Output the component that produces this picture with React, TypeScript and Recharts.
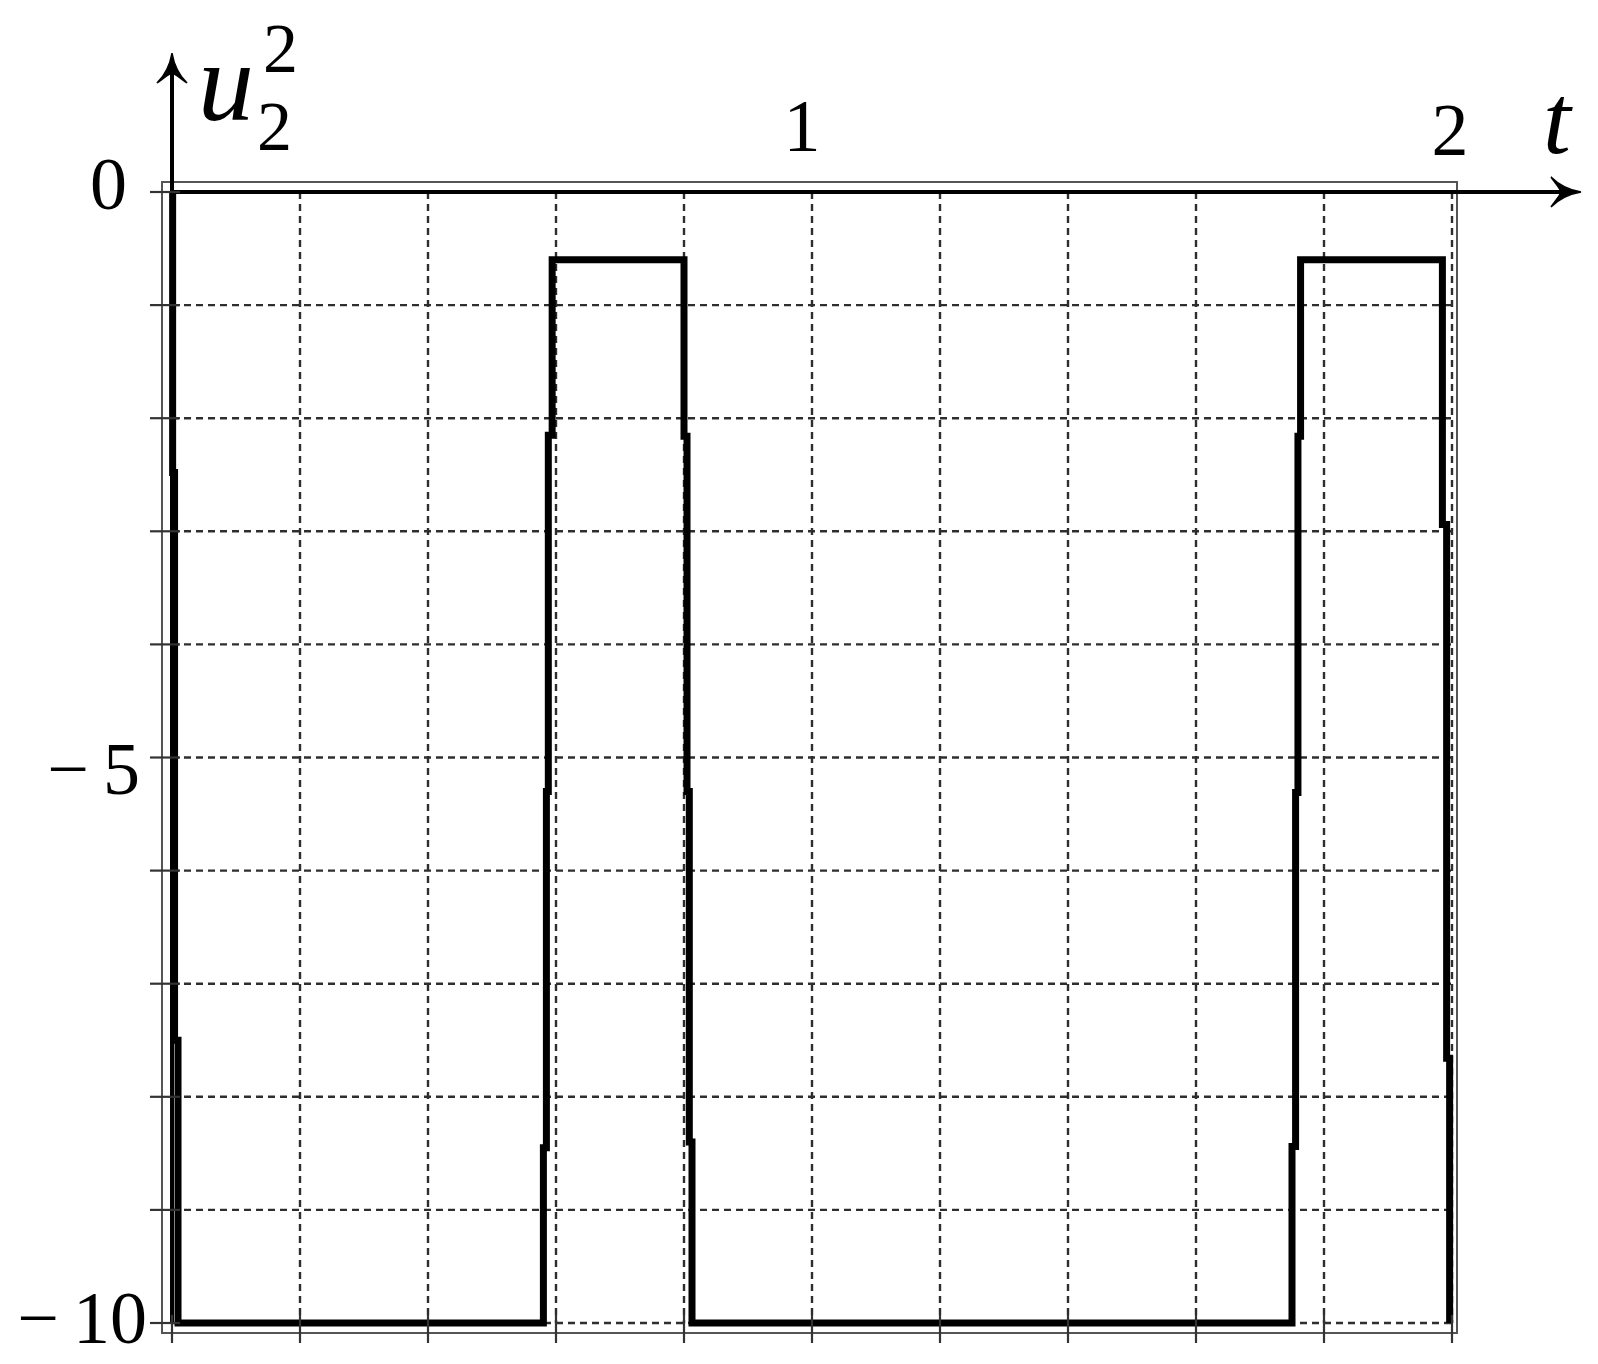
import React from "react";
import { LineChart, Line, XAxis, YAxis, CartesianGrid, Customized } from "recharts";

// time (t) and signal (u₂²) samples of the waveform
const T_VALUES = [
  0.001, 0.001, 0.004, 0.004, 0.0094, 0.0094,
  0.5803, 0.5803, 0.585, 0.585, 0.588, 0.588, 0.594, 0.594,
  0.8, 0.8, 0.8047, 0.8047, 0.8083, 0.8083, 0.8125, 0.8125,
  1.75, 1.75, 1.7556, 1.7556, 1.7593, 1.7593, 1.7634, 1.7634,
  1.985, 1.985, 1.9916, 1.9916, 1.9963, 1.9963,
];
const U_VALUES = [
  0, -2.48, -2.48, -7.5, -7.5, -10,
  -10, -8.45, -8.45, -5.3, -5.3, -2.15, -2.15, -0.6,
  -0.6, -2.16, -2.16, -5.3, -5.3, -8.4, -8.4, -10,
  -10, -8.44, -8.44, -5.31, -5.31, -2.16, -2.16, -0.6,
  -0.6, -2.94, -2.94, -7.66, -7.66, -10,
];

const X_GRID_TICKS = [0, 0.2, 0.4, 0.6, 0.8, 1, 1.2, 1.4, 1.6, 1.8, 2];
const Y_GRID_TICKS = [0, -1, -2, -3, -4, -5, -6, -7, -8, -9, -10];
const X_LABEL_TICKS = [1, 2];
const X_LABELS: Record<string, string> = { "1": "1", "2": "2" };
const Y_LABELS: Record<string, [string, string]> = {
  "0": ["", "0"],
  "-5": ["−", "5"],
  "-10": ["−", "10"],
};

const data = T_VALUES.map((t, i) => ({ t, u: U_VALUES[i] }));

// layout
const W = 1598;
const H = 1364;
const P_LEFT = 172;
const P_TOP = 192;
const P_RIGHT = 1452;
const P_BOTTOM = 1323;
const FONT = "'Liberation Serif', 'Times New Roman', serif";

// per-label placement tweaks (style only)
const Y_LABEL_STYLE: Record<string, { endX: number; dy: number }> = {
  "0": { endX: 127, dy: 17 },
  "-5": { endX: 140, dy: 36 },
  "-10": { endX: 147, dy: 20 },
};
const X_LABEL_STYLE: Record<string, { dx: number; y: number }> = {
  "1": { dx: -10, y: 151 },
  "2": { dx: -2, y: 155 },
};

const YTick = (props: any) => {
  const { x, y, payload } = props;
  const key = String(payload.value);
  const lbl = Y_LABELS[key];
  const st = Y_LABEL_STYLE[key];
  return (
    <g>
      <line x1={x - 22} x2={x + 8} y1={y} y2={y} stroke="#333" strokeWidth={2.2} />
      {lbl && st ? (
        <text
          x={st.endX}
          y={y + st.dy}
          textAnchor="end"
          fontFamily={FONT}
          fontSize={74}
          fill="#000"
        >
          {lbl[0] ? <tspan>{lbl[0]}</tspan> : null}
          <tspan dx={lbl[0] ? 14 : 0}>{lbl[1]}</tspan>
        </text>
      ) : null}
    </g>
  );
};

const XBottomTick = (props: any) => {
  const { x, y } = props;
  return <line x1={x} x2={x} y1={y - 8} y2={y + 20} stroke="#333" strokeWidth={2.2} />;
};

const XTopTick = (props: any) => {
  const { x, payload } = props;
  const key = String(payload.value);
  const st = X_LABEL_STYLE[key];
  return (
    <text
      x={x + (st ? st.dx : 0)}
      y={st ? st.y : 152}
      textAnchor="middle"
      fontFamily={FONT}
      fontSize={74}
      fill="#000"
    >
      {X_LABELS[key]}
    </text>
  );
};

const Decor = () => (
  <g>
    {/* frame */}
    <rect
      x={P_LEFT - 10}
      y={P_TOP - 10}
      width={P_RIGHT - P_LEFT + 15}
      height={P_BOTTOM - P_TOP + 20}
      fill="none"
      stroke="#555"
      strokeWidth={2}
    />
    {/* axes */}
    <line x1={P_LEFT} x2={P_LEFT} y1={P_BOTTOM} y2={62} stroke="#000" strokeWidth={4} />
    <line x1={P_LEFT} x2={1570} y1={P_TOP} y2={P_TOP} stroke="#000" strokeWidth={4} />
    <path
      d={`M${P_LEFT},53 C${P_LEFT + 2},65 ${P_LEFT + 7},75 ${P_LEFT + 15},83 C${P_LEFT + 9},79 ${P_LEFT + 4},74 ${P_LEFT},73 C${P_LEFT - 4},74 ${P_LEFT - 9},79 ${P_LEFT - 15},83 C${P_LEFT - 7},75 ${P_LEFT - 2},65 ${P_LEFT},53 Z`}
      fill="#000"
      stroke="#000"
      strokeWidth={1.5}
    />
    <path
      d={`M1581,${P_TOP} C1569,${P_TOP + 2} 1559,${P_TOP + 7} 1551,${P_TOP + 15} C1555,${P_TOP + 9} 1560,${P_TOP + 4} 1561,${P_TOP} C1560,${P_TOP - 4} 1555,${P_TOP - 9} 1551,${P_TOP - 15} C1559,${P_TOP - 7} 1569,${P_TOP - 2} 1581,${P_TOP} Z`}
      fill="#000"
      stroke="#000"
      strokeWidth={1.5}
    />
    {/* axis names */}
    <text x={198} y={120} fontFamily={FONT} fontStyle="italic" fontSize={112} fill="#000">
      u
    </text>
    <text x={263} y={72} fontFamily={FONT} fontSize={70} fill="#000">
      2
    </text>
    <text x={257} y={150} fontFamily={FONT} fontSize={70} fill="#000">
      2
    </text>
    <text x={1543} y={153} fontFamily={FONT} fontStyle="italic" fontSize={100} fill="#000">
      t
    </text>
  </g>
);

export default function App() {
  return (
    <div style={{ position: "absolute", left: 0, top: 0, width: W, height: H, background: "#fff" }}>
      <LineChart
        width={W}
        height={H}
        data={data}
        margin={{ top: 132, right: W - P_RIGHT, bottom: 0, left: 0 }}
      >
        <CartesianGrid
          stroke="#2e2e2e"
          strokeWidth={2.4}
          strokeDasharray="7 5"
          horizontal={true}
          vertical={true}
        />
        <XAxis
          dataKey="t"
          type="number"
          domain={[0, 2]}
          ticks={X_GRID_TICKS}
          interval={0}
          height={H - P_BOTTOM}
          axisLine={false}
          tickLine={false}
          tickSize={0}
          tickMargin={0}
          tick={<XBottomTick />}
        />
        <XAxis
          xAxisId="top"
          orientation="top"
          dataKey="t"
          type="number"
          domain={[0, 2]}
          ticks={X_LABEL_TICKS}
          interval={0}
          height={60}
          axisLine={false}
          tickLine={false}
          tickSize={0}
          tickMargin={0}
          tick={<XTopTick />}
        />
        <YAxis
          type="number"
          domain={[-10, 0]}
          ticks={Y_GRID_TICKS}
          interval={0}
          width={P_LEFT}
          axisLine={false}
          tickLine={false}
          tickSize={0}
          tickMargin={0}
          tick={<YTick />}
        />
        <Line
          type="linear"
          dataKey="u"
          stroke="#000"
          strokeWidth={7}
          dot={false}
          activeDot={false}
          isAnimationActive={false}
        />
        <Customized component={Decor} />
      </LineChart>
    </div>
  );
}
